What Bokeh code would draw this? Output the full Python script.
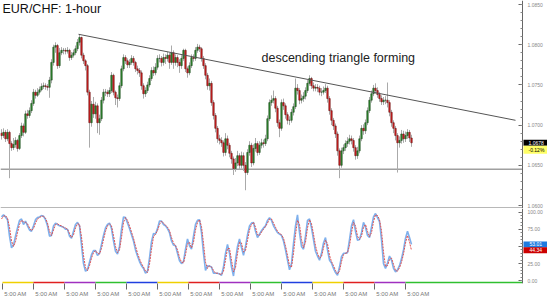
from bokeh.plotting import figure
from bokeh.models import (ColumnDataSource, LinearAxis, FixedTicker, NumeralTickFormatter,
                          Range1d, Label)
from bokeh.layouts import column
from bokeh.embed import file_html
from bokeh.resources import INLINE

# ---------------- data ----------------
first_open = 1.0690
closes = [
    1.0687, 1.0691, 1.0683, 1.0691, 1.0677, 1.0672, 1.0676, 1.0681, 1.0671, 1.0687,
    1.0699, 1.0691, 1.0714, 1.0712, 1.0718, 1.0727, 1.0741, 1.0737, 1.0741, 1.0744,
    1.0748, 1.0749, 1.0748, 1.0747, 1.0756, 1.0778, 1.0797, 1.0799, 1.0774, 1.0790,
    1.0793, 1.0793, 1.0792, 1.0793, 1.0784, 1.0787, 1.0790, 1.0795, 1.0803, 1.0809,
    1.0787, 1.0780, 1.0774, 1.0741, 1.0703, 1.0726, 1.0714, 1.0724, 1.0703, 1.0708,
    1.0731, 1.0741, 1.0741, 1.0739, 1.0743, 1.0762, 1.0741, 1.0734, 1.0733, 1.0749,
    1.0770, 1.0784, 1.0780, 1.0775, 1.0778, 1.0783, 1.0778, 1.0770, 1.0768, 1.0765,
    1.0749, 1.0739, 1.0743, 1.0750, 1.0758, 1.0768, 1.0765, 1.0772, 1.0783, 1.0783,
    1.0778, 1.0784, 1.0783, 1.0787, 1.0778, 1.0790, 1.0778, 1.0784, 1.0778, 1.0774,
    1.0783, 1.0793, 1.0770, 1.0765, 1.0774, 1.0784, 1.0783, 1.0793, 1.0797, 1.0795,
    1.0783, 1.0774, 1.0762, 1.0749, 1.0752, 1.0728, 1.0712, 1.0696, 1.0683, 1.0681,
    1.0678, 1.0666, 1.0683, 1.0675, 1.0665, 1.0658, 1.0646, 1.0653, 1.0662, 1.0650,
    1.0662, 1.0650, 1.0641, 1.0666, 1.0675, 1.0653, 1.0671, 1.0677, 1.0666, 1.0675,
    1.0678, 1.0677, 1.0683, 1.0708, 1.0728, 1.0731, 1.0733, 1.0721, 1.0703, 1.0696,
    1.0728, 1.0724, 1.0713, 1.0706, 1.0706, 1.0716, 1.0723, 1.0746, 1.0743, 1.0731,
    1.0733, 1.0736, 1.0743, 1.0752, 1.0758, 1.0749, 1.0746, 1.0747, 1.0746, 1.0741,
    1.0741, 1.0743, 1.0746, 1.0733, 1.0718, 1.0706, 1.0699, 1.0689, 1.0668, 1.0650,
    1.0668, 1.0672, 1.0677, 1.0680, 1.0683, 1.0681, 1.0672, 1.0662, 1.0668, 1.0683,
    1.0696, 1.0693, 1.0703, 1.0718, 1.0731, 1.0739, 1.0746, 1.0743, 1.0738, 1.0733,
    1.0729, 1.0731, 1.0731, 1.0728, 1.0716, 1.0703, 1.0696, 1.0687, 1.0678, 1.0681,
    1.0689, 1.0683, 1.0687, 1.0691, 1.0684, 1.0678,
]
highs = [
    1.0695, 1.0696, 1.0694, 1.0695, 1.0693, 1.0680, 1.0684, 1.0685, 1.0683, 1.0690,
    1.0703, 1.0702, 1.0718, 1.0719, 1.0722, 1.0731, 1.0745, 1.0744, 1.0746, 1.0748,
    1.0752, 1.0753, 1.0752, 1.0751, 1.0760, 1.0782, 1.0800, 1.0803, 1.0801, 1.0796,
    1.0797, 1.0796, 1.0796, 1.0797, 1.0795, 1.0791, 1.0794, 1.0799, 1.0807, 1.0813,
    1.0810, 1.0790, 1.0782, 1.0776, 1.0744, 1.0730, 1.0735, 1.0729, 1.0727, 1.0713,
    1.0735, 1.0745, 1.0745, 1.0744, 1.0747, 1.0766, 1.0764, 1.0743, 1.0738, 1.0753,
    1.0774, 1.0788, 1.0787, 1.0783, 1.0782, 1.0787, 1.0786, 1.0780, 1.0774, 1.0771,
    1.0768, 1.0752, 1.0747, 1.0754, 1.0762, 1.0772, 1.0773, 1.0777, 1.0787, 1.0788,
    1.0786, 1.0789, 1.0788, 1.0791, 1.0790, 1.0799, 1.0793, 1.0788, 1.0787, 1.0782,
    1.0787, 1.0795, 1.0795, 1.0773, 1.0778, 1.0788, 1.0788, 1.0797, 1.0801, 1.0800,
    1.0797, 1.0786, 1.0777, 1.0765, 1.0758, 1.0755, 1.0731, 1.0715, 1.0699, 1.0688,
    1.0685, 1.0681, 1.0690, 1.0687, 1.0678, 1.0668, 1.0661, 1.0659, 1.0668, 1.0665,
    1.0667, 1.0666, 1.0654, 1.0670, 1.0680, 1.0678, 1.0676, 1.0684, 1.0680, 1.0680,
    1.0683, 1.0682, 1.0688, 1.0712, 1.0732, 1.0737, 1.0743, 1.0736, 1.0724, 1.0707,
    1.0732, 1.0733, 1.0727, 1.0716, 1.0711, 1.0720, 1.0727, 1.0758, 1.0751, 1.0746,
    1.0738, 1.0741, 1.0747, 1.0756, 1.0762, 1.0760, 1.0753, 1.0751, 1.0751, 1.0749,
    1.0746, 1.0748, 1.0751, 1.0749, 1.0736, 1.0721, 1.0709, 1.0702, 1.0692, 1.0671,
    1.0672, 1.0676, 1.0681, 1.0685, 1.0688, 1.0687, 1.0684, 1.0675, 1.0673, 1.0687,
    1.0700, 1.0701, 1.0707, 1.0722, 1.0735, 1.0743, 1.0750, 1.0752, 1.0747, 1.0741,
    1.0737, 1.0735, 1.0736, 1.0753, 1.0731, 1.0719, 1.0706, 1.0699, 1.0690, 1.0686,
    1.0694, 1.0693, 1.0692, 1.0695, 1.0694, 1.0688,
]
lows = [
    1.0682, 1.0684, 1.0679, 1.0680, 1.0634, 1.0668, 1.0669, 1.0672, 1.0667, 1.0669,
    1.0684, 1.0686, 1.0689, 1.0708, 1.0709, 1.0715, 1.0724, 1.0733, 1.0735, 1.0738,
    1.0742, 1.0745, 1.0744, 1.0743, 1.0734, 1.0752, 1.0774, 1.0790, 1.0770, 1.0771,
    1.0787, 1.0788, 1.0788, 1.0789, 1.0780, 1.0781, 1.0784, 1.0787, 1.0792, 1.0799,
    1.0783, 1.0776, 1.0768, 1.0737, 1.0672, 1.0698, 1.0709, 1.0708, 1.0690, 1.0688,
    1.0705, 1.0727, 1.0736, 1.0735, 1.0735, 1.0740, 1.0737, 1.0725, 1.0722, 1.0730,
    1.0746, 1.0767, 1.0776, 1.0771, 1.0771, 1.0775, 1.0774, 1.0766, 1.0763, 1.0760,
    1.0744, 1.0733, 1.0735, 1.0740, 1.0747, 1.0755, 1.0761, 1.0762, 1.0769, 1.0778,
    1.0773, 1.0774, 1.0776, 1.0779, 1.0770, 1.0775, 1.0770, 1.0774, 1.0772, 1.0765,
    1.0770, 1.0780, 1.0766, 1.0759, 1.0762, 1.0771, 1.0779, 1.0780, 1.0790, 1.0791,
    1.0779, 1.0770, 1.0757, 1.0744, 1.0743, 1.0724, 1.0707, 1.0691, 1.0678, 1.0676,
    1.0673, 1.0661, 1.0662, 1.0670, 1.0660, 1.0652, 1.0638, 1.0642, 1.0649, 1.0645,
    1.0646, 1.0643, 1.0619, 1.0638, 1.0662, 1.0648, 1.0650, 1.0667, 1.0662, 1.0663,
    1.0671, 1.0672, 1.0674, 1.0680, 1.0705, 1.0724, 1.0727, 1.0716, 1.0698, 1.0685,
    1.0693, 1.0719, 1.0708, 1.0701, 1.0700, 1.0703, 1.0712, 1.0720, 1.0738, 1.0726,
    1.0727, 1.0729, 1.0732, 1.0740, 1.0749, 1.0745, 1.0742, 1.0742, 1.0741, 1.0737,
    1.0736, 1.0738, 1.0740, 1.0728, 1.0713, 1.0700, 1.0694, 1.0684, 1.0662, 1.0634,
    1.0647, 1.0664, 1.0668, 1.0673, 1.0676, 1.0676, 1.0667, 1.0657, 1.0658, 1.0665,
    1.0680, 1.0688, 1.0689, 1.0700, 1.0715, 1.0728, 1.0736, 1.0739, 1.0734, 1.0729,
    1.0725, 1.0725, 1.0726, 1.0722, 1.0711, 1.0698, 1.0690, 1.0681, 1.0641, 1.0672,
    1.0677, 1.0678, 1.0679, 1.0683, 1.0679, 1.0673,
]
stoch_k = [
    93, 96, 93, 89, 65, 48, 52, 65, 77, 88,
    90, 82, 87, 80, 74, 72, 80, 89, 92, 93,
    95, 94, 89, 80, 65, 66, 80, 84, 82, 80,
    79, 78, 75, 75, 65, 62, 72, 82, 85, 80,
    52, 25, 14, 16, 27, 38, 44, 44, 37, 40,
    53, 66, 77, 82, 84, 76, 58, 43, 39, 50,
    75, 93, 92, 84, 76, 67, 58, 45, 36, 28,
    22, 18, 11, 14, 33, 57, 69, 68, 76, 87,
    87, 82, 80, 76, 70, 58, 52, 51, 40, 29,
    25, 28, 46, 61, 51, 46, 65, 82, 88, 89,
    70, 40, 15, 22, 21, 20, 11, 11, 11, 10,
    8, 20, 40, 53, 40, 20, 7, 30, 50, 61,
    48, 37, 50, 67, 80, 84, 85, 72, 63, 68,
    73, 77, 80, 88, 92, 88, 80, 75, 70, 68,
    66, 58, 45, 30, 16, 25, 54, 80, 96, 70,
    50, 46, 65, 88, 90, 77, 60, 43, 36, 30,
    40, 55, 63, 45, 30, 26, 18, 12, 8, 20,
    35, 40, 40, 41, 60, 80, 89, 72, 59, 60,
    70, 85, 78, 66, 63, 78, 93, 98, 92, 86,
    60, 25, 18, 26, 36, 30, 18, 13, 16, 22,
    32, 45, 62, 72, 63, 53.01,
]
stoch_d = [
    90, 94, 95, 91, 78, 58, 50, 57, 70, 82,
    88, 86, 85, 83, 77, 73, 76, 84, 90, 92,
    94, 94, 91, 84, 72, 66, 74, 82, 83, 81,
    80, 78, 77, 75, 69, 63, 67, 77, 83, 82,
    64, 37, 19, 15, 22, 33, 41, 44, 40, 39,
    47, 60, 72, 80, 83, 80, 66, 50, 41, 45,
    63, 85, 92, 88, 80, 71, 62, 51, 40, 32,
    25, 20, 14, 12, 24, 46, 64, 68, 73, 82,
    87, 84, 81, 78, 73, 63, 55, 51, 45, 34,
    27, 26, 38, 54, 56, 48, 56, 74, 85, 89,
    79, 55, 27, 18, 22, 20, 15, 11, 11, 10,
    9, 14, 30, 47, 47, 30, 13, 19, 40, 56,
    55, 42, 44, 59, 74, 82, 85, 78, 67, 66,
    71, 75, 79, 84, 90, 90, 84, 78, 72, 69,
    67, 62, 51, 37, 22, 20, 40, 67, 88, 82,
    60, 48, 56, 77, 89, 83, 68, 51, 40, 33,
    35, 48, 59, 54, 37, 28, 22, 15, 10, 14,
    28, 38, 40, 41, 51, 70, 85, 80, 65, 60,
    65, 78, 82, 72, 64, 70, 86, 96, 95, 89,
    73, 42, 21, 22, 31, 33, 24, 15, 14, 19,
    27, 39, 55, 66, 56, 44.34,
]
trend_time = [38.5, 257]
trend_price = [1.0813, 1.0706]
support_price = 1.0645
day_ticks = [0.5, 16, 31.5, 47, 62.5, 78, 93.5, 109, 124.5, 140, 155.5, 171, 186.5, 202]
day_labels = ["5:00 AM"] * len(day_ticks)
day_colors = ["#f0d000", "#e02020", "#a030c0", "#30c030", "#2040e0",
              "#f0d000", "#e02020", "#a030c0", "#30c030", "#2040e0",
              "#f0d000", "#e02020", "#a030c0", "#30c030"]
price_ticks = [1.0600, 1.0650, 1.0700, 1.0750, 1.0800, 1.0850]
osc_ticks = [0, 25, 50, 75, 100]
last_price_text = "1.0678"
change_text = "-0.12%"
k_text = "53.01"
d_text = "44.34"
title_text = "EUR/CHF: 1-hour"
note_text = "descending triangle forming"

# ---------------- derived / layout constants ----------------
n = len(closes)
idx = list(range(n))
opens = [first_open] + closes[:-1]
X0 = -0.5          # left edge of the frame
X_AXIS = 260.5     # where the price scale sits (522 px)
X_END = 273.0      # right edge of the window (547 px)
FONT = "Liberation Sans"
LABEL_SHIFT = 6.5  # label centre sits just right of each day separator
P_LO, P_HI = 1.05963, 1.0855
O_LO, O_HI = -3.95, 105.26

def body_source(cond):
    sel = [i for i in idx if cond(opens[i], closes[i])]
    return ColumnDataSource(dict(
        x=sel,
        top=[max(opens[i], closes[i]) for i in sel],
        bottom=[min(opens[i], closes[i]) for i in sel],
    ))

up_src = body_source(lambda o, c: c >= o)
dn_src = body_source(lambda o, c: c < o)
wick_src = ColumnDataSource(dict(x=idx, high=highs, low=lows))

def style_right_axis(ax):
    ax.fixed_location = X_AXIS
    ax.axis_line_color = "#666"
    ax.major_tick_in = 4
    ax.major_tick_out = 0
    ax.minor_tick_in = 2
    ax.minor_tick_out = 0
    ax.major_tick_line_color = "#666"
    ax.minor_tick_line_color = "#888"
    ax.major_label_text_font_size = "5px"
    ax.major_label_text_color = "#888"
    ax.major_label_text_font = FONT
    ax.major_label_standoff = 5

def box_label(y, text, bg, fg, y_offset=0, pad_l=5, pad_r=7):
    return Label(x=X_AXIS, y=y, x_offset=1, y_offset=y_offset,
                 text=text, text_baseline="middle", text_font=FONT, text_font_size="5px",
                 text_color=fg, background_fill_color=bg,
                 padding=dict(left=pad_l, right=pad_r, top=1, bottom=1))

# ---------------- price panel ----------------
top = figure(width=547, height=208, x_range=Range1d(X0, X_END), y_range=Range1d(P_LO, P_HI),
             x_axis_type=None, y_axis_type=None, toolbar_location=None, output_backend="svg",
             min_border_left=0, min_border_right=0, min_border_top=0, min_border_bottom=0,
             outline_line_color=None, background_fill_color="white", border_fill_color="white")

pax = LinearAxis(ticker=FixedTicker(ticks=price_ticks,
                                    minor_ticks=[round(1.0600 + 0.001 * i, 4) for i in range(26)]),
                 formatter=NumeralTickFormatter(format="0.0000"))
style_right_axis(pax)
top.add_layout(pax, "right")

# support line and panel separator
top.segment(x0=[X0], y0=[support_price], x1=[X_AXIS], y1=[support_price],
            line_color="#a0a0a0", line_width=1.5)
top.segment(x0=[X0], y0=[1.0597], x1=[X_AXIS], y1=[1.0597],
            line_color="#a0a0a0", line_width=1.5)

top.segment(x0="x", y0="low", x1="x", y1="high", source=wick_src, line_color="#aaaaaa", line_width=1)
top.vbar(x="x", width=0.75, top="top", bottom="bottom", source=up_src,
         fill_color="#2f8a2f", line_color="#173f17", line_width=0.5)
top.vbar(x="x", width=0.75, top="top", bottom="bottom", source=dn_src,
         fill_color="#d42020", line_color="#5a0c0c", line_width=0.5)

top.line(trend_time, trend_price, line_color="#555555", line_width=1)

top.add_layout(Label(x=X0, y=P_HI, text=title_text, x_offset=2, y_offset=-1,
                     text_baseline="top", text_font=FONT, text_font_size="12.5px",
                     text_color="#111111"))
top.add_layout(Label(x=130, y=1.0783, text=note_text, text_baseline="middle",
                     text_font=FONT, text_font_size="12.5px", text_color="#222222"))

top.add_layout(box_label(closes[-1], last_price_text, "black", "white"))
top.add_layout(box_label(closes[-1], change_text, "#ffff66", "black", y_offset=-7))

# ---------------- oscillator panel ----------------
osc = figure(width=547, height=91, x_range=top.x_range, y_range=Range1d(O_LO, O_HI),
             x_axis_type=None, y_axis_type=None, toolbar_location=None, output_backend="svg",
             min_border_left=0, min_border_right=0, min_border_top=0, min_border_bottom=8,
             outline_line_color=None, background_fill_color="white", border_fill_color="white")

oax = LinearAxis(ticker=FixedTicker(ticks=osc_ticks, minor_ticks=list(range(0, 101, 5))),
                 formatter=NumeralTickFormatter(format="0.00"))
style_right_axis(oax)
osc.add_layout(oax, "right")

label_pos = [t + LABEL_SHIFT for t in day_ticks]
xax = LinearAxis(ticker=FixedTicker(ticks=label_pos, minor_ticks=day_ticks))
xax.major_label_overrides = {p: lab for p, lab in zip(label_pos, day_labels)}
xax.axis_line_color = None
xax.major_tick_in = 0
xax.major_tick_out = 0
xax.minor_tick_in = 0
xax.minor_tick_out = 6
xax.minor_tick_line_color = "#666"
xax.major_label_text_font_size = "6px"
xax.major_label_text_color = "#777"
xax.major_label_text_font = FONT
xax.major_label_standoff = 1
osc.add_layout(xax, "below")

osc.quad(left=day_ticks, right=day_ticks[1:] + [X_AXIS], bottom=O_LO, top=-1.4,
         fill_color=day_colors, line_color=None)

osc.line(idx, stoch_k, line_color="#7fb0ec", line_width=1.6)
osc.line(idx, stoch_d, line_color="#e05050", line_width=1, line_dash="2 1")

osc.add_layout(box_label(stoch_k[-1], k_text, "#1e7be0", "white", pad_l=6, pad_r=8))
osc.add_layout(box_label(stoch_d[-1], d_text, "#cc0000", "white", pad_l=6, pad_r=8))

layout = column(top, osc, spacing=0)
open("out.html", "w").write(file_html(layout, INLINE))
